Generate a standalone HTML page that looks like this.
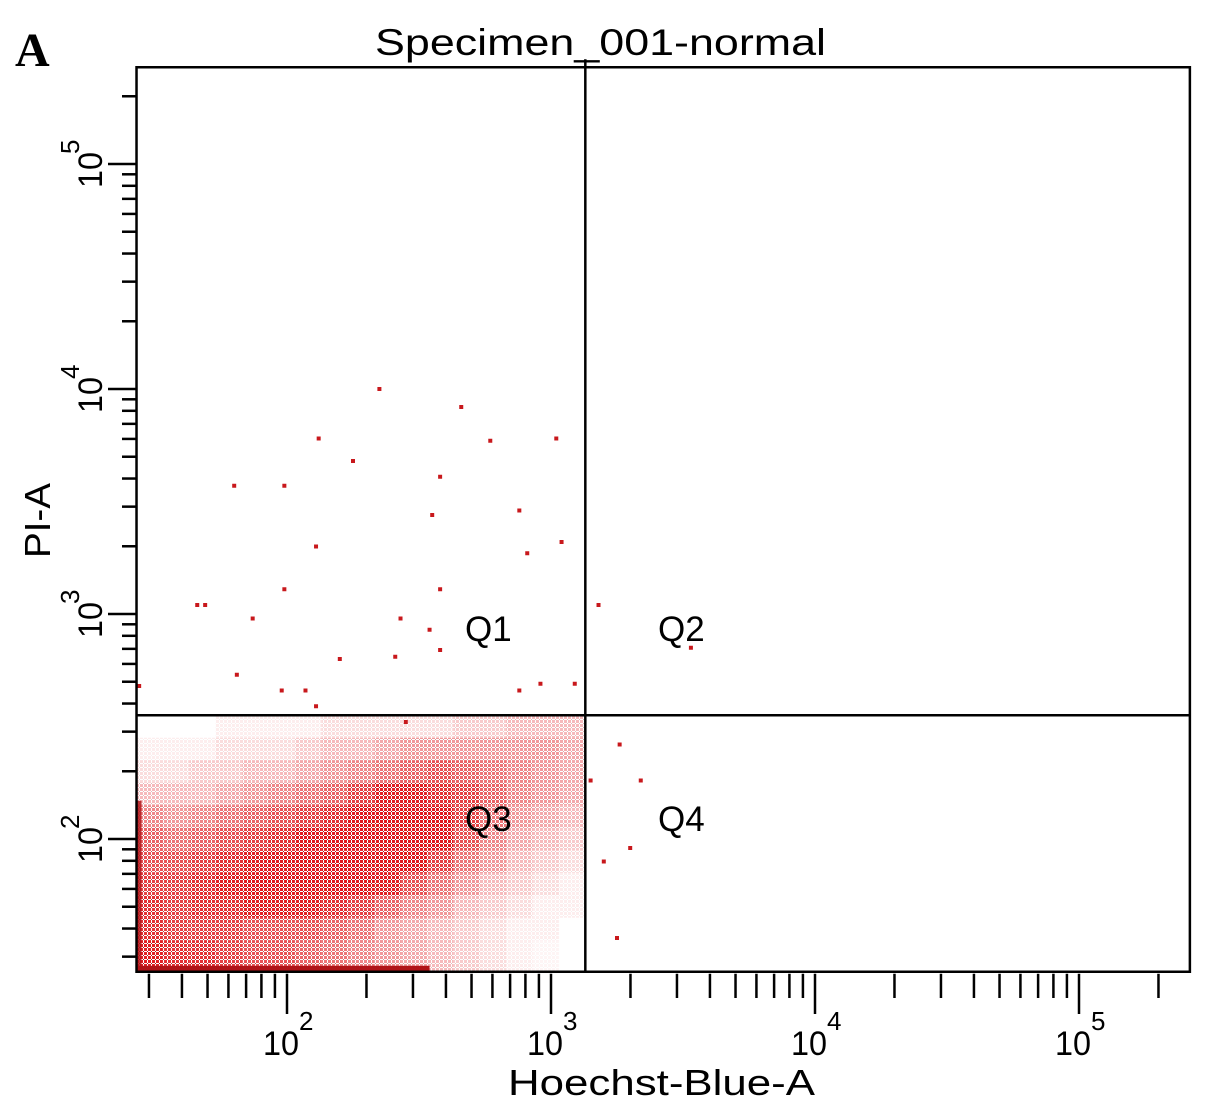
<!DOCTYPE html>
<html><head><meta charset="utf-8"><style>
html,body{margin:0;padding:0;background:#fff;}
svg{display:block;font-family:"Liberation Sans",sans-serif;}
</style></head><body>
<svg id="chart" width="1205" height="1119" viewBox="0 0 1205 1119">
<defs><pattern id="dots" width="4" height="4" patternUnits="userSpaceOnUse"><rect width="3" height="3" fill="#e01a1e"/><rect x="3" y="3" width="1" height="1" fill="#a01014"/></pattern></defs>
<text x="15" y="66" font-family="Liberation Serif, serif" font-weight="bold" font-size="48">A</text>
<text x="375" y="55" font-size="37" textLength="451" lengthAdjust="spacingAndGlyphs">Specimen_001-normal</text>
<g id="marks"></g>
<g id="axes"></g>
<text x="508" y="1095" font-size="36" textLength="307" lengthAdjust="spacingAndGlyphs">Hoechst-Blue-A</text>
<text transform="translate(50,558) rotate(-90)" font-size="36" textLength="75" lengthAdjust="spacingAndGlyphs">PI-A</text>
</svg>
<script>
// Density grid of Q3 population (rows top->bottom), log10 bins
const densX0 = 1.43, densDX = 0.1;
const densY = [2.45,2.35,2.25,2.15,2.05,1.95,1.85,1.75,1.65,1.55,1.41];
const densRows = [
[0,0,0,.05,.05,.05,.05,.1,.1,.1,.1,.1,.15,.15,.2,.2,.2],
[.05,.05,.05,.1,.1,.1,.15,.2,.2,.25,.3,.3,.3,.3,.3,.3,.25],
[.1,.1,.15,.15,.2,.2,.25,.3,.35,.4,.45,.5,.45,.4,.35,.3,.25],
[.2,.2,.2,.25,.3,.35,.4,.45,.55,.65,.65,.6,.55,.45,.35,.3,.25],
[.35,.3,.35,.4,.45,.5,.55,.6,.7,.8,.8,.7,.55,.4,.3,.25,.2],
[.45,.4,.45,.5,.55,.6,.7,.75,.85,.95,.9,.7,.5,.35,.25,.2,.15],
[.5,.5,.55,.6,.65,.7,.75,.85,.9,.85,.75,.55,.4,.3,.2,.15,.1],
[.55,.55,.6,.65,.7,.75,.8,.8,.75,.65,.5,.4,.3,.2,.15,.1,.05],
[.6,.55,.6,.6,.65,.65,.65,.6,.55,.45,.35,.3,.2,.15,.1,.05,.05],
[.6,.55,.55,.55,.5,.5,.5,.45,.4,.3,.25,.2,.15,.1,.05,.05,0],
[.65,.6,.6,.55,.5,.5,.45,.4,.35,.3,.25,.2,.15,.1,.05,.03,0]];
// sparse events (log10 x, log10 y)
const ptLX = [2.35,2.66,2.12,2.77,3.02,2.25,2.58,1.80,1.99,2.55,2.88,2.11,3.04,2.91,2.58,1.66,1.69,1.99,1.87,2.43,3.18,2.54,2.58,2.41,2.20,3.53,1.81,2.88,2.96,3.09,1.44,1.98,2.07,2.11,2.45,3.26,3.34,3.20,3.30,3.25,3.15];
const ptLY = [4.00,3.92,3.78,3.77,3.78,3.68,3.61,3.57,3.57,3.44,3.46,3.30,3.32,3.27,3.11,3.04,3.04,3.11,2.98,2.98,3.04,2.93,2.84,2.81,2.80,2.85,2.73,2.66,2.69,2.69,2.68,2.66,2.66,2.59,2.52,2.42,2.26,1.90,1.96,1.56,2.26];
// gates (log10)
const gateX = 3.13, gateY = 2.55;
const axisMin = [1.43, 1.41], axisMax = [5.42, 5.43];
const decades = [1,2,3,4,5];
const tickLabelsX = ["2","3","4","5"];
const tickLabelsY = ["2","3","4","5"];
const quadNames = ["Q1","Q2","Q3","Q4"];

const X = l => 287 + (l - 2) * 264;
const Y = l => 839 - (l - 2) * 225;
const NS = "http://www.w3.org/2000/svg";
const marks = document.getElementById('marks'), axes = document.getElementById('axes');
function mk(tag, attrs, parent){const e=document.createElementNS(NS,tag);for(const k in attrs)e.setAttribute(k,attrs[k]);parent.appendChild(e);return e;}

const L = X(axisMin[0]), R = X(axisMax[0]), B = Y(axisMin[1]), T = Y(axisMax[1]);
densRows.forEach((row, r) => {
  const yTop = r === 0 ? gateY : densY[r-1];
  row.forEach((v, c) => {
    if (!v) return;
    const x0 = densX0 + c*densDX, x1 = Math.min(x0 + densDX, gateX);
    const el = mk('rect', {x: X(x0), y: Y(yTop), width: X(x1)-X(x0), height: Y(densY[r])-Y(yTop), fill: 'url(#dots)', opacity: Math.min(1, v*1.5)}, marks);
    
    
  });
});
// events piled at axis minimum
let band = mk('rect', {x: L, y: B-6, width: X(2.54)-L, height: 6, fill: '#b01418'}, marks);


band = mk('rect', {x: L, y: Y(2.17), width: 5, height: B-Y(2.17), fill: '#b01418', opacity: 0.85}, marks);


ptLX.forEach((lx, i) => {
  const p = mk('rect', {x: X(lx)-2, y: Y(ptLY[i])-2, width: 4, height: 4, fill: '#c8181c'}, marks);
  
  
});

// frame & gates
let f = mk('rect', {x: L, y: T, width: R-L, height: B-T, fill: 'none', stroke: '#000', 'stroke-width': 2.5}, axes);


f = mk('line', {x1: X(gateX), x2: X(gateX), y1: T-8, y2: B, stroke: '#000', 'stroke-width': 2.5}, axes);


f = mk('line', {x1: L, x2: R, y1: Y(gateY), y2: Y(gateY), stroke: '#000', 'stroke-width': 2.5}, axes);



// ticks
decades.forEach(d => {
  for (let m = 1; m <= 9; m++) {
    const l = d + Math.log10(m);
    if (l >= axisMin[0] && l <= axisMax[0]) {
      const t = mk('line', {x1: X(l), x2: X(l), y1: B+2, y2: m===1 ? 1014 : 998, stroke: '#000', 'stroke-width': 2.5}, axes);
      
      
    }
    if (l >= axisMin[1] && l <= axisMax[1]) {
      const t = mk('line', {x1: m===1 ? 108 : 122, x2: L, y1: Y(l), y2: Y(l), stroke: '#000', 'stroke-width': 2.5}, axes);
      
      
    }
  }
});
tickLabelsX.forEach(s => {
  const x = X(+s);
  const t = mk('text', {x: x-24, y: 1055, 'font-size': 34, textLength: 36, lengthAdjust: 'spacingAndGlyphs'}, axes);
  t.textContent = '10';
  
  
  const e = mk('text', {x: x+12, y: 1030, 'font-size': 26}, axes);
  e.textContent = s;
  
  
});
tickLabelsY.forEach(s => {
  const y = Y(+s);
  const t = mk('text', {transform: `translate(102,${y+24}) rotate(-90)`, 'font-size': 34, textLength: 36, lengthAdjust: 'spacingAndGlyphs'}, axes);
  t.textContent = '10';
  
  
  const e = mk('text', {transform: `translate(79,${y-10}) rotate(-90)`, 'font-size': 26}, axes);
  e.textContent = s;
  
  
});
// quadrant labels
const qx = [465, 658, 465, 658], qy = [641, 641, 831, 831];
quadNames.forEach((q, i) => {
  const t = mk('text', {x: qx[i], y: qy[i], 'font-size': 35}, axes);
  t.textContent = q;
  
  
});
</script>
</body></html>
